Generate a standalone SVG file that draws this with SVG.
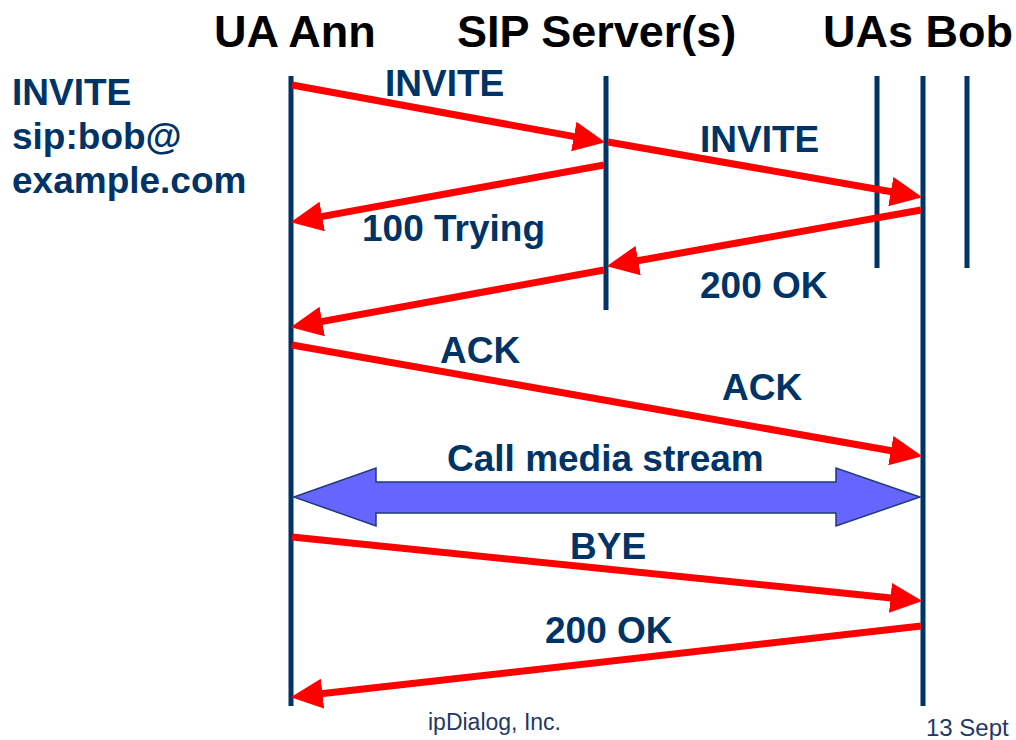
<svg xmlns="http://www.w3.org/2000/svg" width="1016" height="740" viewBox="0 0 1016 740">
<style>
.hdr{font-family:"Liberation Sans",Arial,sans-serif;font-weight:bold;font-size:45px;fill:#000}
.lbl{font-family:"Liberation Sans",Arial,sans-serif;font-weight:bold;font-size:37px;fill:#003366}
.life{stroke:#003366;stroke-width:5;fill:none}
.msg{stroke:#ff0000;stroke-width:7;fill:none;marker-end:url(#ah)}
.foot{font-family:"Liberation Sans",Arial,sans-serif;fill:#1f3864}
</style>
<defs>
<marker id="ah" markerUnits="userSpaceOnUse" markerWidth="32" markerHeight="30" viewBox="0 0 30 28" refX="10" refY="14" orient="auto">
<path d="M0,0 L30,14 L0,28 z" fill="#ff0000"/>
</marker>
</defs>
<rect width="1016" height="740" fill="#fff"/>
<g id="headers">
<text class="hdr" x="214" y="47">UA Ann</text>
<text class="hdr" x="457" y="47">SIP Server(s)</text>
<text class="hdr" x="823" y="47">UAs Bob</text>
</g>
<g id="request-uri">
<text class="lbl" x="12" y="105">INVITE</text>
<text class="lbl" x="12" y="149">sip:bob@</text>
<text class="lbl" x="12" y="193">example.com</text>
</g>
<g id="ua-ann"><line class="life" x1="291" y1="76" x2="291" y2="706"/></g>
<g id="sip-server"><line class="life" x1="606" y1="76" x2="606" y2="310"/></g>
<g id="ua-bob-1"><line class="life" x1="877" y1="76" x2="877" y2="268"/></g>
<g id="ua-bob-2"><line class="life" x1="923" y1="76" x2="923" y2="706"/></g>
<g id="ua-bob-3"><line class="life" x1="967" y1="76" x2="967" y2="268"/></g>
<g id="connectors">
<line class="msg" x1="292" y1="85" x2="584.3" y2="138.4"/>
<line class="msg" x1="608" y1="142" x2="901.3" y2="193.5"/>
<line class="msg" x1="604" y1="165" x2="311.7" y2="218.4"/>
<line class="msg" x1="921" y1="210" x2="627.7" y2="262.5"/>
<line class="msg" x1="604" y1="270" x2="311.7" y2="323.4"/>
<line class="msg" x1="292" y1="345" x2="901.3" y2="452.5"/>
<line class="msg" x1="292" y1="537" x2="901.1" y2="598.9"/>
<line class="msg" x1="921" y1="626" x2="311.9" y2="694.8"/>
<polygon id="media-stream" points="294,497 376,468 376,482 836,482 836,468 920,497 836,526 836,513 376,513 376,526" fill="#6666ff" stroke="#1f3a7a" stroke-width="1.5" stroke-linejoin="miter"/>
</g>
<g id="labels">
<text class="lbl" x="385" y="96">INVITE</text>
<text class="lbl" x="700" y="152">INVITE</text>
<text class="lbl" x="362" y="241">100 Trying</text>
<text class="lbl" x="700" y="298">200 OK</text>
<text class="lbl" x="440" y="363">ACK</text>
<text class="lbl" x="722" y="400">ACK</text>
<text class="lbl" x="447" y="471">Call media stream</text>
<text class="lbl" x="570" y="559">BYE</text>
<text class="lbl" x="545" y="643">200 OK</text>
</g>
<g id="footer">
<text class="foot" x="428" y="730" font-size="23">ipDialog, Inc.</text>
<text class="foot" x="926" y="736" font-size="24" fill="#0d2a55">13 Sept</text>
</g>
</svg>
